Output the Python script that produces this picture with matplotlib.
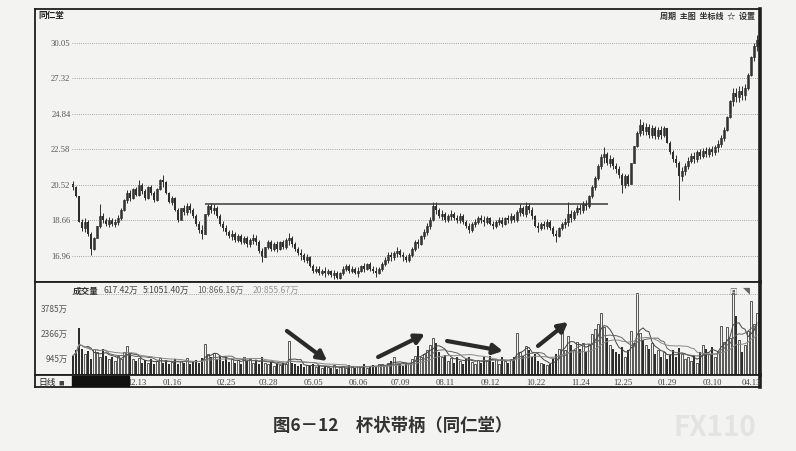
import matplotlib.pyplot as plt
import numpy as np
import pandas as pd
from matplotlib.transforms import blended_transform_factory
from matplotlib.patches import Rectangle

plt.rcParams['font.family'] = ['Noto Sans CJK SC', 'DejaVu Sans']

######
close = [20.4, 19.9, 18.6, 18.3, 18.6, 18.0, 17.3, 17.8, 18.4, 18.9,
         18.7, 18.5, 18.7, 18.5, 18.6, 18.8, 19.2, 19.7, 20.1, 19.8,
         20.3, 20.0, 20.5, 20.2, 19.8, 20.4, 20.1, 19.7, 20.3, 20.8,
         20.7, 20.1, 19.6, 19.8, 19.2, 18.7, 19.3, 19.1, 19.4, 19.2,
         18.9, 18.5, 18.2, 18.0, 19.0, 19.4, 19.2, 19.3, 18.9, 18.5,
         18.3, 18.1, 17.9, 18.0, 17.7, 17.9, 17.6, 17.8, 17.5, 17.7,
         17.8, 17.6, 17.2, 16.9, 17.4, 17.6, 17.3, 17.5, 17.3, 17.6,
         17.4, 17.7, 17.8, 17.5, 17.3, 17.1, 17.0, 16.8, 16.9, 16.5,
         16.3, 16.4, 16.2, 16.3, 16.2, 16.3, 16.1, 16.2, 16.0, 16.2,
         16.4, 16.5, 16.3, 16.4, 16.2, 16.3, 16.5, 16.4, 16.6, 16.4,
         16.3, 16.2, 16.4, 16.6, 16.8, 17.0, 16.9, 17.1, 17.2, 17.0,
         16.9, 16.8, 17.0, 17.3, 17.6, 17.5, 17.9, 18.1, 18.4, 18.7,
         19.4, 19.2, 18.9, 19.0, 18.7, 18.9, 19.0, 18.8, 18.7, 18.9,
         18.6, 18.4, 18.2, 18.5, 18.6, 18.8, 18.7, 18.6, 18.8, 18.5,
         18.4, 18.6, 18.7, 18.5, 18.8, 18.7, 18.9, 18.7, 19.1, 19.3,
         19.0, 19.4, 19.2, 18.9, 18.4, 18.3, 18.5, 18.4, 18.6, 18.3,
         18.0, 17.9, 18.3, 18.5, 18.6, 19.0, 18.8, 19.1, 19.3, 19.2,
         19.5, 19.4, 19.9, 20.4, 20.9, 21.6, 22.1, 22.3, 21.8, 22.0,
         21.6, 21.4, 21.1, 20.5, 21.0, 20.6, 21.8, 22.8, 23.6, 24.1,
         23.7, 24.0, 23.5, 23.9, 23.4, 23.8, 23.5, 23.9, 23.0, 22.4,
         22.0, 21.8, 21.0, 21.3, 21.6, 21.9, 22.2, 22.0, 22.4, 22.2,
         22.5, 22.3, 22.6, 22.4, 22.7, 22.9, 23.3, 23.8, 24.6, 25.7,
         26.3, 26.0, 26.4, 26.1, 26.6, 27.6, 28.9, 29.8, 30.3]
first_open = 20.6
# daily high-low range, yuan
day_range = [0.5, 0.6, 0.9, 0.6, 0.7, 0.8, 0.9, 0.6, 0.6, 0.7,
             0.5, 0.4, 0.5, 0.4, 0.4, 0.5, 0.6, 0.6, 0.7, 0.6,
             0.6, 0.5, 0.7, 0.6, 0.6, 0.7, 0.5, 0.6, 0.7, 0.6,
             0.7, 0.7, 0.6, 0.5, 0.7, 0.7, 0.6, 0.5, 0.6, 0.5,
             0.5, 0.6, 0.6, 0.7, 0.8, 0.6, 0.5, 0.5, 0.6, 0.6,
             0.5, 0.5, 0.4, 0.5, 0.5, 0.4, 0.5, 0.4, 0.5, 0.4,
             0.5, 0.5, 0.6, 0.6, 0.5, 0.4, 0.5, 0.4, 0.5, 0.4,
             0.4, 0.5, 0.6, 0.5, 0.4, 0.4, 0.5, 0.4, 0.4, 0.5,
             0.4, 0.3, 0.4, 0.3, 0.4, 0.3, 0.3, 0.4, 0.4, 0.3,
             0.4, 0.3, 0.4, 0.3, 0.3, 0.4, 0.3, 0.4, 0.3, 0.4,
             0.3, 0.4, 0.3, 0.4, 0.4, 0.5, 0.4, 0.4, 0.5, 0.4,
             0.4, 0.3, 0.4, 0.5, 0.5, 0.4, 0.5, 0.5, 0.6, 0.6,
             0.8, 0.6, 0.5, 0.5, 0.5, 0.4, 0.5, 0.4, 0.4, 0.5,
             0.5, 0.4, 0.5, 0.5, 0.4, 0.4, 0.4, 0.5, 0.4, 0.4,
             0.4, 0.4, 0.4, 0.5, 0.4, 0.4, 0.5, 0.4, 0.6, 0.6,
             0.5, 0.7, 0.5, 0.6, 0.6, 0.5, 0.4, 0.4, 0.5, 0.5,
             0.5, 0.5, 0.5, 0.4, 0.5, 0.8, 0.6, 0.5, 0.5, 0.5,
             0.6, 0.5, 0.7, 0.7, 0.8, 0.9, 0.9, 0.9, 0.8, 0.7,
             0.7, 0.6, 0.7, 0.8, 0.8, 0.7, 0.9, 1.0, 1.0, 0.9,
             0.8, 0.8, 0.9, 0.8, 0.8, 0.7, 0.8, 0.7, 0.9, 0.8,
             0.7, 0.7, 1.0, 0.8, 0.7, 0.7, 0.6, 0.6, 0.7, 0.6,
             0.6, 0.6, 0.6, 0.6, 0.6, 0.7, 0.8, 0.9, 1.0, 1.2,
             1.2, 1.0, 1.1, 1.0, 1.1, 1.3, 1.5, 1.4, 1.3]
hi_spike = {9: 19.5, 22: 20.8, 30: 21.1, 120: 19.6, 151: 19.6, 165: 19.6,
            177: 22.7, 189: 24.5, 228: 30.7}
lo_spike = {6: 17.0, 63: 16.7, 88: 15.95, 161: 17.6, 183: 20.1, 202: 19.7}

volume = [1100, 1400, 2670, 1500, 1200, 1350, 900, 1450, 1300, 1000,
          1500, 1100, 900, 1000, 800, 1100, 900, 1300, 1650, 1200,
          900, 800, 950, 700, 850, 700, 900, 650, 800, 950,
          700, 850, 600, 750, 900, 650, 800, 700, 950, 600,
          750, 850, 700, 950, 1760, 1200, 1000, 1250, 900, 1100,
          800, 1000, 750, 900, 700, 850, 650, 1000, 800, 900,
          700, 850, 600, 1000, 700, 600, 750, 500, 650, 550,
          700, 600, 1930, 700, 600, 500, 650, 450, 550, 500,
          600, 450, 550, 400, 500, 450, 400, 550, 350, 450,
          500, 400, 550, 450, 400, 500, 450, 600, 400, 500,
          550, 450, 650, 600, 500, 700, 800, 1000, 650, 600,
          500, 700, 650, 900, 1100, 1650, 1000, 1200, 1400, 1700,
          2100, 1800, 1300, 1000, 1150, 800, 950, 700, 1050, 800,
          650, 900, 1000, 750, 600, 850, 700, 1000, 800, 1100,
          750, 900, 650, 1000, 800, 700, 900, 1050, 2390, 1300,
          1100, 1650, 1400, 1000, 1200, 800, 700, 600, 550, 650,
          900, 1200, 1500, 2700, 1400, 2200, 1700, 1400, 1900, 1500,
          1800, 1300, 1750, 2300, 2600, 2900, 3520, 2700, 2100, 1700,
          1500, 1300, 1200, 1600, 1000, 1400, 2500, 1800, 4660, 2400,
          2000, 1700, 1500, 1800, 1200, 1400, 1000, 1300, 900, 1150,
          1400, 1000, 1550, 1200, 900, 1000, 800, 1100, 700, 1300,
          1700, 1500, 1200, 1600, 1000, 1300, 2800, 1900, 2700, 2100,
          4660, 3350, 2000, 1300, 1700, 2500, 4200, 2900, 3500]

price_ticks = [16.96, 18.66, 20.52, 22.58, 24.84, 27.32, 30.05]
vol_ticks = [945, 2366, 3785]
date_pos = [18, 30, 48, 62, 77, 92, 106, 121, 136, 151, 166, 180, 195, 210, 223]
date_lab = ['12.13', '01.16', '02.25', '03.28', '05.05', '06.06', '07.09', '08.11',
            '09.12', '10.22', '11.24', '12.25', '01.29', '03.10', '04.13']
handle_price = 19.5
handle_from, handle_to = 44, 178.3
# arrows on the volume panel: (bar, volume) start -> end
arrows = [((71.3, 2500), (84.7, 800)),
          ((101.7, 1020), (117.3, 2330)),
          ((124.7, 1930), (143.3, 1360)),
          ((155.0, 1650), (165.0, 3010))]
######

bg = '#f3f3f1'
ink = '#2e2e2e'
close = np.array(close)
volume = np.array(volume)
rng = np.array(day_range)
n = len(close)
x = np.arange(n)
opn = np.r_[first_open, close[:-1]]
mid = (opn + close) / 2
high = np.maximum(mid + rng / 2, np.maximum(opn, close))
low = np.minimum(mid - rng / 2, np.minimum(opn, close))
for k, v in hi_spike.items():
    high[k] = v
for k, v in lo_spike.items():
    low[k] = v
up = close >= opn
body_b = np.minimum(opn, close)
body_h = np.maximum(np.abs(close - opn), 0.04)

W, H = 796, 452
fig = plt.figure(figsize=(W / 100, H / 100), dpi=100, facecolor=bg)
L, R = 35, 760
def box(top, bot):
    return [L / W, 1 - bot / H, (R - L) / W, (bot - top) / H]
axp = fig.add_axes(box(10, 283))
axv = fig.add_axes(box(283, 376))
axd = fig.add_axes(box(376, 388))
xlo, xhi = (L - 73) / 3.0, (R - 73) / 3.0
for ax in (axp, axv, axd):
    ax.set_facecolor(bg)
    ax.set_xlim(xlo, xhi)
    ax.set_xticks([])
    ax.set_yticks([])
    for s in ax.spines.values():
        s.set_color('#1e1e1e')
        s.set_linewidth(1.3)
    ax.spines['right'].set_linewidth(2.6)

## price panel
axp.set_yscale('log')
axp.set_ylim(15.82, 32.91)
axp.minorticks_off()
axp.set_yticks([])
axp.hlines(price_ticks, -0.4, n - 0.6, colors='#8a8a8a', linestyles=(0, (1, 1.6)), lw=0.6)
tp = blended_transform_factory(axp.transAxes, axp.transData)
for t in price_ticks:
    axp.text(0.049, t, '%.2f' % t, transform=tp, ha='right', va='center',
             fontsize=6.2, color='#555', family=['Liberation Serif', 'DejaVu Serif'])
axp.vlines(x, low, high, color=ink, lw=0.7)
axp.bar(x[up], body_h[up], bottom=body_b[up], width=0.62, facecolor=bg, edgecolor=ink, lw=0.55)
axp.bar(x[~up], body_h[~up], bottom=body_b[~up], width=0.62, color=ink, lw=0)
axp.hlines(handle_price, handle_from, handle_to, colors='#3a3a3a', lw=1.1)

## volume panel
axv.set_ylim(0, 5280)
axv.bar(x[up], volume[up], width=0.62, facecolor=bg, edgecolor=ink, lw=0.55)
axv.bar(x[~up], volume[~up], width=0.62, color=ink, lw=0)
vs = pd.Series(volume)
for w, c in [(5, '#444'), (10, '#666'), (20, '#888')]:
    axv.plot(x, vs.rolling(w, min_periods=1).mean(), color=c, lw=0.7)
axv.axhline(4600, xmin=(72 - L) / (R - L), xmax=(757 - L) / (R - L),
            color='#8a8a8a', ls=(0, (1, 1.6)), lw=0.6)
tv = blended_transform_factory(axv.transAxes, axv.transData)
for t in vol_ticks:
    axv.text(0.045, t, '%d万' % t, transform=tv, ha='right', va='center',
             fontsize=6, color='#555')
for (x0, y0), (x1, y1) in arrows:
    axv.annotate('', xy=(x1, y1), xytext=(x0, y0),
                 arrowprops=dict(arrowstyle='-|>,head_length=0.55,head_width=0.3',
                                 color='#2a2a2a', lw=3.0, shrinkA=0, shrinkB=0))
axv.text(0.052, 0.915, '成交量', transform=axv.transAxes, fontsize=6.2, color='#333',
         weight='bold', va='center')
axv.text(0.094, 0.915, '617.42万', transform=axv.transAxes, fontsize=6.2, color='#444', va='center')
axv.text(0.149, 0.915, '5:1051.40万', transform=axv.transAxes, fontsize=6.2, color='#444', va='center')
axv.text(0.224, 0.915, '10:866.16万', transform=axv.transAxes, fontsize=6.2, color='#666', va='center')
axv.text(0.300, 0.915, '20:855.67万', transform=axv.transAxes, fontsize=6.2, color='#999', va='center')
axv.text(0.958, 0.915, '▣', transform=axv.transAxes, fontsize=5.5, color='#666', va='center')
axv.text(0.976, 0.915, '◥', transform=axv.transAxes, fontsize=5, color='#666', va='center')

## date strip
axd.set_ylim(0, 1)
for p, lab in zip(date_pos, date_lab):
    axd.text(p, 0.45, lab, ha='left', va='center', fontsize=6.2, color='#444',
             family=['Liberation Serif', 'DejaVu Serif'])
axd.add_patch(Rectangle((xlo + 12.3, 0.05), 19.0, 0.9, color='#111', zorder=3))
axd.text(0.005, 0.45, '日线', transform=axd.transAxes, fontsize=6.3, color='#222', va='center')
axd.text(0.033, 0.45, '■', transform=axd.transAxes, fontsize=4, color='#444', va='center')

## top labels and caption
fig.text(38 / W, 1 - 15.5 / H, '同仁堂', fontsize=6.2, color='#222', weight='bold', va='center')
fig.text(755 / W, 1 - 16 / H, '周期  主图  坐标线  ☆  设置', fontsize=5.8, color='#333',
         ha='right', va='center', weight='bold')
fig.text(393 / W, 1 - 426 / H, '图6－12　杯状带柄（同仁堂）', fontsize=12.5, color='#333',
         ha='center', va='center', weight='bold')
fig.text(715 / W, 1 - 428 / H, 'FX110', fontsize=20, color='#e3e3e3', ha='center',
         va='center', weight='bold', style='italic')

plt.savefig('out.png', dpi=100, facecolor=bg)
